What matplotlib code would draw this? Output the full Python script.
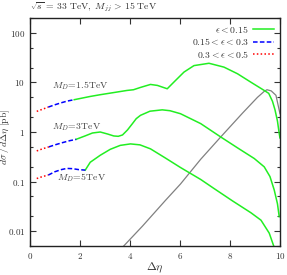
import matplotlib
matplotlib.use("Agg")
import matplotlib.pyplot as plt
from matplotlib.ticker import FixedLocator, NullFormatter, LogLocator

plt.rcParams['mathtext.fontset'] = 'cm'
plt.rcParams['font.family'] = 'serif'
plt.rcParams['font.serif'] = ['DejaVu Serif']

# M_D = 1.5 TeV
md15_red_x = [0.27, 0.5, 0.73]
md15_red_y = [2.61, 2.88, 3.18]
md15_blue_x = [0.73, 1.0, 1.25, 1.5, 1.77]
md15_blue_y = [3.18, 3.55, 3.89, 4.22, 4.49]
md15_green_x = [1.77, 2.41, 2.81, 3.4, 3.88, 4.14, 4.42, 4.82, 5.1, 5.49, 5.8, 6.16, 6.56,
                7.16, 7.76, 8.3, 8.84, 9.37, 9.55, 9.7, 9.8, 9.9, 9.97, 10.0]
md15_green_y = [4.49, 5.22, 5.66, 6.31, 6.90, 7.13, 7.94, 9.12, 8.71, 7.46, 10.7, 16.2, 21.9,
                24.4, 20.4, 15.0, 10.1, 6.90, 6.03, 4.17, 2.82, 1.66, 0.93, 0.76]

# M_D = 3 TeV
md3_red_x = [0.27, 0.5, 0.75]
md3_red_y = [0.415, 0.457, 0.50]
md3_blue_x = [0.75, 1.0, 1.3, 1.6, 1.85]
md3_blue_y = [0.50, 0.55, 0.61, 0.67, 0.71]
md3_green_x = [1.85, 2.2, 2.5, 2.81, 3.1, 3.35, 3.53, 3.7, 3.9, 4.1, 4.25, 4.42, 4.8, 5.29,
               5.6, 6.02, 6.83, 7.63, 8.3, 8.97, 9.37, 9.6, 9.77, 9.9, 9.97]
md3_green_y = [0.713, 0.832, 0.955, 1.0, 0.912, 0.832, 0.818, 0.871, 1.10, 1.48, 1.86, 2.17,
               2.63, 2.80, 2.69, 2.34, 1.476, 0.794, 0.479, 0.292, 0.198, 0.126, 0.0676,
               0.0355, 0.0195]

# M_D = 5 TeV
md5_red_x = [0.27, 0.5, 0.73]
md5_red_y = [0.115, 0.126, 0.135]
md5_blue_x = [0.73, 1.0, 1.25, 1.47, 1.7, 1.95, 2.21]
md5_blue_y = [0.135, 0.158, 0.174, 0.184, 0.182, 0.174, 0.170]
md5_green_x = [2.21, 2.41, 2.81, 3.21, 3.61, 4.02, 4.4, 4.82, 5.4, 6.02, 6.83, 7.36, 8.1,
               8.84, 9.24, 9.57, 9.75]
md5_green_y = [0.170, 0.245, 0.339, 0.447, 0.537, 0.575, 0.550, 0.457, 0.302, 0.192, 0.110,
               0.0724, 0.0407, 0.0234, 0.0166, 0.0091, 0.0050]

# gray curve
gray_x = [3.75, 4.5, 5.42, 6.02, 6.83, 7.63, 8.5, 9.1, 9.37, 9.48, 9.65, 9.84, 10.0]
gray_y = [0.0050, 0.0126, 0.0417, 0.0891, 0.282, 0.794, 2.40, 5.01, 6.61, 7.13, 6.76, 5.50, 2.34]

legend_labels = [r'$\epsilon < 0.15$', r'$0.15 < \epsilon < 0.3$', r'$0.3 < \epsilon < 0.5$']
x_ticks = [0, 2, 4, 6, 8, 10]
y_ticks = [0.01, 0.1, 1, 10, 100]
y_tick_labels = ['0.01', '0.1', '1', '10', '100']

GREEN = '#22ee22'
BLUE = '#0000ff'
RED = '#ff0000'

fig = plt.figure(figsize=(2.87, 2.75), dpi=100)
ax = fig.add_axes([0.1045, 0.1055, 0.871, 0.829])

lw = 1.1
ax.plot(gray_x, gray_y, color='#808080', lw=0.9)

curves = [
    (md15_red_x, md15_red_y, md15_blue_x, md15_blue_y, md15_green_x, md15_green_y),
    (md3_red_x, md3_red_y, md3_blue_x, md3_blue_y, md3_green_x, md3_green_y),
    (md5_red_x, md5_red_y, md5_blue_x, md5_blue_y, md5_green_x, md5_green_y),
]
for i, (rx, ry, bx, by, gx, gy) in enumerate(curves):
    ax.plot(gx, gy, color=GREEN, lw=lw, label=legend_labels[0] if i == 0 else None)
    ax.plot(bx, by, color=BLUE, lw=lw, ls=(0, (3, 1.5)), label=legend_labels[1] if i == 0 else None)
    ax.plot(rx, ry, color=RED, lw=lw, ls=(0, (1, 1.5)), label=legend_labels[2] if i == 0 else None)

ax.set_yscale('log')
ax.set_xlim(0, 10)
ax.set_ylim(0.005, 200)

ax.yaxis.set_major_locator(FixedLocator(y_ticks))
ax.set_yticklabels(['$' + s + '$' for s in y_tick_labels])
ax.yaxis.set_minor_locator(LogLocator(base=10, subs=(2, 5)))
ax.yaxis.set_minor_formatter(NullFormatter())
ax.set_xticks(x_ticks)
ax.set_xticklabels(['$%d$' % t for t in x_ticks])

ax.tick_params(which='both', direction='in', top=True, right=True, labelsize=6.5, colors='#333333')
ax.tick_params(which='major', length=4, width=0.8, pad=3.5)
ax.tick_params(which='minor', length=2.5, width=0.8)
for s in ax.spines.values():
    s.set_linewidth(1.0)
    s.set_color('#222222')

ax.set_xlabel(r'$\Delta\eta$', fontsize=8.5, color='#333333')
ax.xaxis.set_label_coords(0.5, -0.065)
ax.set_ylabel(r'$d\sigma\,/\,d\Delta\eta\ \mathrm{[pb]}$', fontsize=7, color='#333333')
ax.yaxis.set_label_coords(-0.072, 0.478)

ax.text(0.87, 8.7, r'$M_D\!=\!1.5\mathrm{TeV}$', fontsize=7, color='#444444', va='center')
ax.text(0.87, 1.26, r'$M_D\!=\!3\mathrm{TeV}$', fontsize=7, color='#444444', va='center')
ax.text(1.1, 0.117, r'$M_D\!=\!5\mathrm{TeV}$', fontsize=7, color='#444444', va='center')

fig.text(0.1045, 0.975, r'$\sqrt{s}\,=\,33\ \mathrm{TeV},\ M_{jj}\,>\,15\ \mathrm{TeV}$',
         fontsize=7, color='#333333', va='center', ha='left')

leg = ax.legend(loc='upper right', frameon=False, markerfirst=False, fontsize=7,
                handlelength=2.2, handletextpad=0.4, labelspacing=0.15,
                borderaxespad=0.2, labelcolor='#333333')

fig.savefig('out.png', dpi=100)
